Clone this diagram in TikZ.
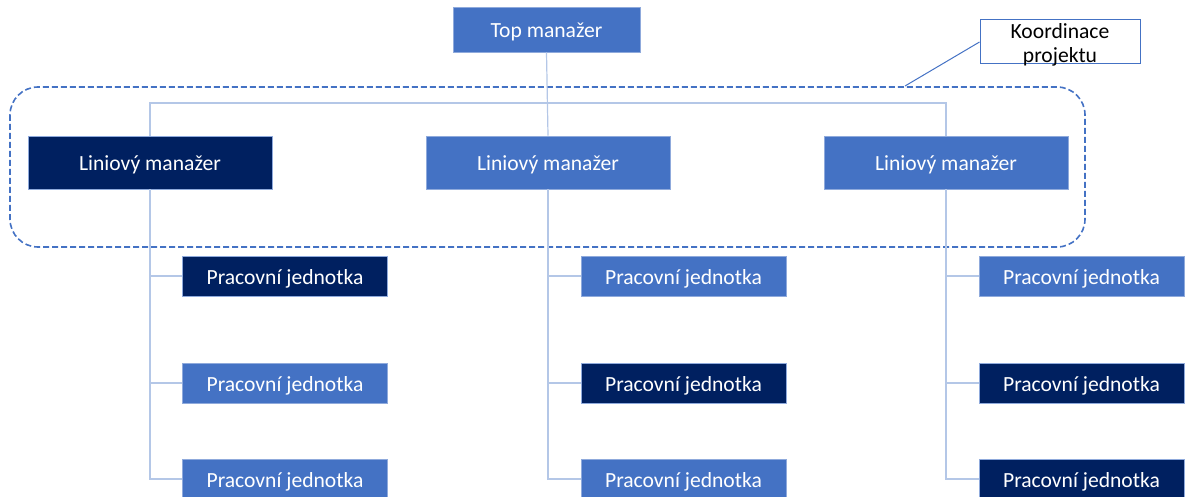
\documentclass[tikz,border=0pt]{standalone}
\usepackage{fontspec}
\setmainfont{Carlito}
\definecolor{accent}{HTML}{4472C4}
\definecolor{navy}{HTML}{002060}
\definecolor{edge}{HTML}{8FAADC}
\definecolor{wire}{HTML}{B4C7E7}
\begin{document}
\begin{tikzpicture}[x=1pt,y=-1pt,
  box/.style={draw=edge,line width=0.8pt,text=white,inner sep=0pt,anchor=center,
    text height=20pt,text depth=4pt,font=\fontsize{21.6}{26}\selectfont},
  lightbox/.style={box,fill=accent},
  darkbox/.style={box,fill=navy},
  topbox/.style={minimum width=187pt,minimum height=45pt},
  linebox/.style={minimum width=244pt,minimum height=53pt},
  unitbox/.style={minimum width=205pt,minimum height=40pt},
  wireline/.style={draw=wire,line width=1.2pt},
  group/.style={draw=accent,line width=1.6pt,dash pattern=on 6pt off 3pt,rounded corners=28pt}]
\useasboundingbox (0,0) rectangle (1188,497);
\clip (0,0) rectangle (1188,497);

% horizontal bus between the line managers
\coordinate (bus) at (548,103);

% project coordination frame
\draw[group] (10,87) rectangle (1085,247);
\coordinate (frametop) at (905,86);
\node[draw=accent,line width=1pt,minimum width=160pt,minimum height=44pt,inner sep=0pt] (coord) at (1060,42) {};
\node[align=center,font=\fontsize{21.6}{24}\selectfont,anchor=north,inner sep=0pt] (coordtext) at (1060,23) {Koordinace\\projektu};
\draw[draw=accent,line width=1pt] (frametop) -- (coord.west);

% managers
\node[lightbox,topbox] (top) at (546.5,29.5) {Top manažer};
\node[darkbox,linebox] (lm1) at (150,162.5) {Liniový manažer};
\node[lightbox,linebox] (lm2) at (548,162.5) {Liniový manažer};
\node[lightbox,linebox] (lm3) at (946,162.5) {Liniový manažer};

% work units
\node[darkbox,unitbox]  (u11) at (285,276) {Pracovní jednotka};
\node[lightbox,unitbox] (u12) at (285,383) {Pracovní jednotka};
\node[lightbox,unitbox] (u13) at (285,479) {Pracovní jednotka};
\node[lightbox,unitbox] (u21) at (683.5,276) {Pracovní jednotka};
\node[darkbox,unitbox]  (u22) at (683.5,383) {Pracovní jednotka};
\node[lightbox,unitbox] (u23) at (683.5,479) {Pracovní jednotka};
\node[lightbox,unitbox] (u31) at (1081.5,276) {Pracovní jednotka};
\node[darkbox,unitbox]  (u32) at (1081.5,383) {Pracovní jednotka};
\node[darkbox,unitbox]  (u33) at (1081.5,479) {Pracovní jednotka};

% connectors
\draw[wireline] (top.south) -- (lm2.north);
\draw[wireline] (lm1.north) |- (bus) -| (lm3.north);
\foreach \m/\u in {lm1/u1, lm2/u2, lm3/u3}{
  \draw[wireline] (\m.south) |- (\u3.west);
  \draw[wireline] (\m.south |- \u1.west) -- (\u1.west);
  \draw[wireline] (\m.south |- \u2.west) -- (\u2.west);
}
\end{tikzpicture}
\end{document}
